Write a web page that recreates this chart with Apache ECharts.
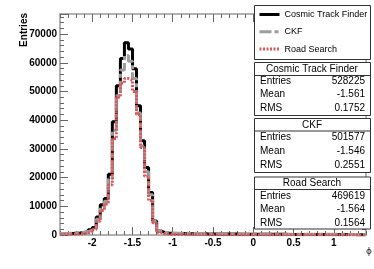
<!DOCTYPE html>
<html><head><meta charset="utf-8">
<script src="https://cdn.jsdelivr.net/npm/echarts@6/dist/echarts.min.js"></script>
<style>html,body{margin:0;padding:0;background:#fff}#c{width:374px;height:269px}</style>
</head><body><div id="c"></div>
<script>
// ---- data ----
const binStart = -2.4;
const binWidth = 0.05;
const xMin = -2.4, xMax = 1.4;
const yMin = 0, yMax = 77000, yInterval = 10000;
const xMajorTicks = [-2, -1.5, -1, -0.5, 0, 0.5, 1];
const seriesNames = ['Cosmic Track Finder', 'CKF', 'Road Search'];

const ctfCounts = [
  400, 450, 500, 600, 700, 900, 1100, 1800, 2600, 6300,
  10500, 12700, 21200, 39500, 52000, 61500, 67000, 64800, 57900, 45000,
  32800, 23500, 14800, 4900, 1400,
  900, 700, 620, 560, 520, 490, 470, 450, 430, 410,
  400, 390, 370, 360, 350, 340, 330, 320, 310, 300,
  290, 290, 280, 270, 260, 250, 250, 240, 230, 230,
  220, 210, 210, 200, 200, 190, 190, 180, 180, 170,
  170, 160, 160, 150, 150, 150, 140, 140, 130, 130,
  120
];
const ckfCounts = [
  500, 550, 600, 700, 800, 1000, 1200, 1700, 2400, 5500,
  9500, 11800, 19500, 36500, 48500, 57500, 62500, 60500, 54500, 42500,
  31000, 22000, 14000, 4800, 1500,
  1000, 800, 720, 660, 620, 590, 560, 540, 520, 500,
  490, 480, 470, 460, 450, 440, 430, 420, 410, 400,
  390, 380, 370, 360, 350, 340, 330, 320, 320, 310,
  300, 300, 290, 280, 280, 270, 260, 260, 250, 250,
  240, 240, 230, 230, 220, 220, 210, 210, 200, 200,
  190
];
const rsCounts = [
  200, 250, 300, 350, 400, 500, 700, 1200, 2000, 4800,
  8500, 10800, 17500, 33500, 48000, 53000, 54500, 54000, 50000, 42000,
  30500, 20500, 12000, 4300, 1000,
  400, 250, 200, 180, 170, 160, 150, 150, 140, 140,
  130, 130, 120, 120, 110, 110, 100, 100, 100, 90,
  90, 90, 80, 80, 80, 80, 70, 70, 70, 70,
  60, 60, 60, 60, 60, 50, 50, 50, 50, 50,
  50, 40, 40, 40, 40, 40, 40, 30, 30, 30,
  30
];

const statTitles = ['Cosmic Track Finder', 'CKF', 'Road Search'];
const statEntries = ['528225', '501577', '469619'];
const statMeans = ['-1.561', '-1.546', '-1.564'];
const statRms = ['0.1752', '0.2551', '0.1564'];
const statRowLabels = ['Entries', 'Mean', 'RMS'];

// ---- build ----
function toSteps(counts) {
  const pts = counts.map((c, i) => [+(binStart + i * binWidth).toFixed(4), c]);
  pts.push([+(binStart + counts.length * binWidth).toFixed(4), counts[counts.length - 1]]);
  return pts;
}

const FONT = 'Liberation Sans';
const tickColor = '#666';
const frameColor = '#999';

function xAxisDef(pos, major, labels) {
  const a = {
    type: 'value', min: xMin, max: xMax, position: pos, gridIndex: 0,
    axisLine: { show: false, onZero: false },
    splitLine: { show: false },
    axisTick: { show: true, inside: true, length: major ? 8 : 4, lineStyle: { color: tickColor, width: 1 } },
    axisLabel: { show: false }
  };
  if (major) {
    a.axisTick.customValues = xMajorTicks;
    if (labels) {
      a.axisLabel = { show: true, customValues: xMajorTicks, formatter: v => String(v),
        fontFamily: FONT, fontWeight: 'bold', fontSize: 10, color: '#000', margin: 3 };
    }
  } else {
    a.interval = 0.1;
  }
  return a;
}
function yAxisDef(pos, labels) {
  return {
    type: 'value', min: yMin, max: yMax, interval: yInterval, position: pos, gridIndex: 0,
    axisLine: { show: false, onZero: false },
    splitLine: { show: false },
    axisTick: { show: true, inside: true, length: 8, lineStyle: { color: tickColor, width: 1 } },
    minorTick: { show: true, splitNumber: 5, length: 4, lineStyle: { color: tickColor, width: 1 } },
    minorSplitLine: { show: false },
    axisLabel: labels ? { show: true, fontFamily: FONT, fontWeight: 'bold', fontSize: 10, color: '#000', margin: 3,
      showMaxLabel: false, formatter: v => String(v) } : { show: false }
  };
}

const lineStyles = [
  { color: '#000000', width: 3, type: 'solid' },
  { color: '#9d9d9d', width: 3, type: [12, 3, 4, 3] },
  { color: '#e05555', width: 3, type: [2, 1.5] }
];
const allCounts = [ctfCounts, ckfCounts, rsCounts];

const series = seriesNames.map((n, k) => ({
  name: n, type: 'line', step: 'end', symbol: 'none', showSymbol: false,
  data: toSteps(allCounts[k]), xAxisIndex: 0, yAxisIndex: 0,
  lineStyle: lineStyles[k], itemStyle: { color: lineStyles[k].color },
  clip: true, z: 2 + k, animation: false
}));

// stats boxes
const boxX = 254, boxW = 116;
const boxes = [
  { top: 62, bottom: 115, title: 69, sep: 75, rows: [81, 94.5, 108] },
  { top: 118, bottom: 172, title: 125, sep: 130.5, rows: [137, 151, 165.5] },
  { top: 176.5, bottom: 228.5, title: 183, sep: 189, rows: [196, 209.5, 223] }
];
const graphics = [];
graphics.push({ type: 'rect', z: 20, shape: { x: boxX + 0.5, y: 5.5, width: boxW, height: 54 },
  style: { fill: '#fff', stroke: '#333', lineWidth: 1 } });
boxes.forEach((b, i) => {
  graphics.push({ type: 'rect', z: 20, shape: { x: boxX + 0.5, y: b.top + 0.5, width: boxW, height: b.bottom - b.top },
    style: { fill: '#fff', stroke: '#333', lineWidth: 1 } });
  graphics.push({ type: 'line', z: 21, shape: { x1: boxX + 0.5, y1: b.sep + 0.5, x2: boxX + boxW + 0.5, y2: b.sep + 0.5 },
    style: { stroke: '#333', lineWidth: 1 } });
  graphics.push({ type: 'text', z: 22, x: boxX + boxW / 2, y: b.title,
    style: { text: statTitles[i], font: '10px "' + FONT + '"', fill: '#000', align: 'center', verticalAlign: 'middle' } });
  const vals = [statEntries[i], statMeans[i], statRms[i]];
  b.rows.forEach((ry, r) => {
    graphics.push({ type: 'text', z: 22, x: 260, y: ry,
      style: { text: statRowLabels[r], font: '10px "' + FONT + '"', fill: '#000', align: 'left', verticalAlign: 'middle' } });
    graphics.push({ type: 'text', z: 22, x: 365, y: ry,
      style: { text: vals[r], font: '10px "' + FONT + '"', fill: '#000', align: 'right', verticalAlign: 'middle' } });
  });
});
graphics.push({ type: 'text', z: 22, x: 24, y: 13, rotation: Math.PI / 2,
  style: { text: 'Entries', font: 'bold 10px "' + FONT + '"', fill: '#000', align: 'right', verticalAlign: 'middle' } });
graphics.push({ type: 'text', z: 22, x: 372, y: 252,
  style: { text: 'ϕ', font: '9px "DejaVu Sans"', fill: '#333', align: 'right', verticalAlign: 'middle' } });

const chart = echarts.init(document.getElementById('c'), null, { renderer: 'canvas' });
chart.setOption({
  animation: false,
  backgroundColor: '#fff',
  grid: { left: 60, right: 8, top: 14, bottom: 34, show: true, borderColor: frameColor, borderWidth: 1.5, backgroundColor: 'transparent' },
  xAxis: [
    xAxisDef('bottom', true, true),
    xAxisDef('bottom', false, false),
    xAxisDef('top', true, false),
    xAxisDef('top', false, false)
  ],
  yAxis: [yAxisDef('left', true), yAxisDef('right', false)],
  legend: {
    data: seriesNames, orient: 'vertical', left: 253, top: 5, z: 30, padding: 5,
    itemWidth: 20, itemHeight: 10, itemGap: 8.3,
    itemStyle: { opacity: 0 },
    lineStyle: { width: 3 },
    textStyle: { fontFamily: FONT, fontSize: 9, color: '#000' },
    selectedMode: false
  },
  graphic: { elements: graphics },
  series: series
});
</script></body></html>
